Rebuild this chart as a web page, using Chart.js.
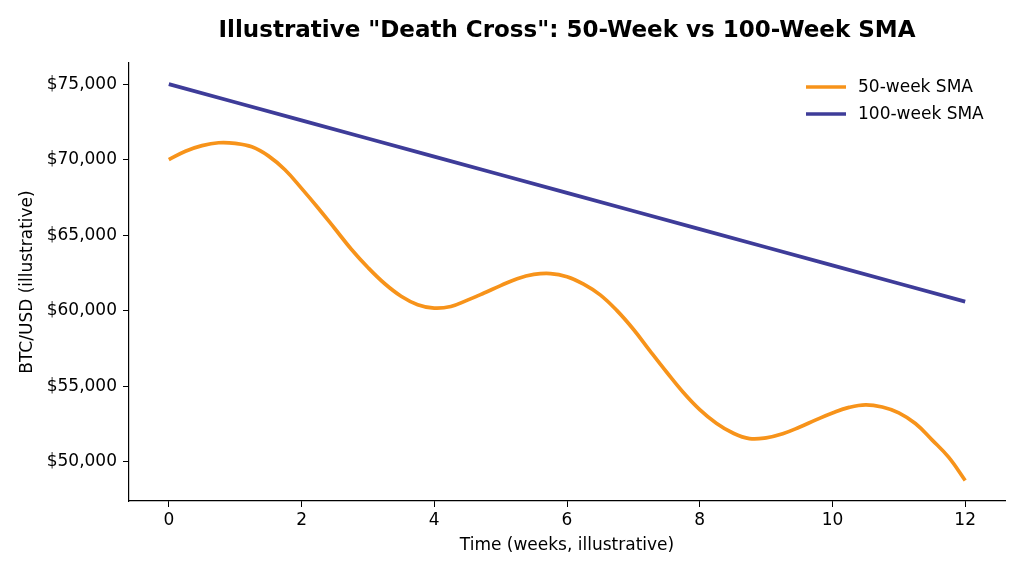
<!DOCTYPE html>
<html>
<head>
<meta charset="utf-8">
<script src="https://cdn.jsdelivr.net/npm/chart.js@4.4.1/dist/chart.umd.min.js"></script>
<style>
html,body{margin:0;padding:0;background:#fff;}
#wrap{width:1024px;height:576px;}
</style>
</head>
<body>
<div id="wrap"><canvas id="c" width="1024" height="576"></canvas></div>
<script>
const chartTitle = 'Illustrative "Death Cross": 50-Week vs 100-Week SMA';
const xAxisTitle = 'Time (weeks, illustrative)';
const yAxisTitle = 'BTC/USD (illustrative)';
const seriesNames = ['50-week SMA', '100-week SMA'];

const weeks50 = [0,0.25,0.5,0.75,1,1.25,1.5,1.75,2,2.25,2.5,2.75,3,3.25,3.5,3.75,4,4.25,4.5,4.75,5,5.25,5.5,5.75,6,6.25,6.5,6.75,7,7.25,7.5,7.75,8,8.25,8.5,8.75,9,9.25,9.5,9.75,10,10.25,10.5,10.75,11,11.25,11.5,11.75,12];
const sma50 = [70000,70560,70930,71120,71080,70850,70250,69330,68100,66800,65440,64070,62860,61800,60960,60400,60170,60280,60700,61170,61660,62120,62400,62460,62250,61760,61050,60020,58770,57340,55940,54600,53450,52550,51900,51530,51580,51850,52280,52770,53230,53600,53770,53620,53240,52530,51450,50300,48760];

const weeks100 = [0,1,2,3,4,5,6,7,8,9,10,11,12];
const sma100 = [75000,73800,72600,71400,70200,69000,67800,66600,65400,64200,63000,61800,60600];

const xTickValues = [0,2,4,6,8,10,12];
const yTickValues = [50000,55000,60000,65000,70000,75000];

const colors = ['#f7931a', '#3e3c99'];

Chart.defaults.font.family = "'DejaVu Sans', sans-serif";
Chart.defaults.font.size = 17;
Chart.defaults.color = '#000';

const overlay = {
  id: 'overlay',
  afterDraw(chart) {
    const ctx = chart.ctx;
    const ca = chart.chartArea;
    ctx.save();
    ctx.fillStyle = '#000';
    ctx.font = "bold 23px 'DejaVu Sans', sans-serif";
    ctx.textAlign = 'center';
    ctx.textBaseline = 'middle';
    ctx.fillText(chartTitle, (ca.left + ca.right) / 2, 31);
    ctx.font = "17px 'DejaVu Sans', sans-serif";
    ctx.textAlign = 'left';
    chart.data.datasets.forEach((ds, i) => {
      const y = 87 + i * 27;
      ctx.strokeStyle = ds.borderColor;
      ctx.lineWidth = ds.borderWidth;
      ctx.beginPath();
      ctx.moveTo(806, y);
      ctx.lineTo(846, y);
      ctx.stroke();
      ctx.fillStyle = '#000';
      ctx.fillText(ds.label, 858, y + 1);
    });
    ctx.restore();
  }
};

new Chart(document.getElementById('c'), {
  type: 'line',
  data: {
    datasets: [
      {
        label: seriesNames[0],
        data: weeks50.map((w, i) => ({x: w, y: sma50[i]})),
        borderColor: colors[0],
        backgroundColor: colors[0],
        borderWidth: 3.7,
        pointRadius: 0,
        tension: 0.4,
        fill: false
      },
      {
        label: seriesNames[1],
        data: weeks100.map((w, i) => ({x: w, y: sma100[i]})),
        borderColor: colors[1],
        backgroundColor: colors[1],
        borderWidth: 3.7,
        pointRadius: 0,
        tension: 0,
        fill: false
      }
    ]
  },
  options: {
    responsive: false,
    animation: false,
    layout: { padding: { top: 63, right: 19, left: 0, bottom: 0 } },
    plugins: {
      legend: { display: false },
      title: { display: false },
      tooltip: { enabled: false }
    },
    scales: {
      x: {
        type: 'linear',
        min: -0.6,
        max: 12.6,
        afterFit(s) { s.height = 75; },
        afterBuildTicks(s) { s.ticks = xTickValues.map(v => ({value: v})); },
        ticks: { padding: 3, color: '#000', font: { size: 17 } },
        grid: { display: true, drawOnChartArea: false, drawTicks: true, tickLength: 6, tickColor: '#000', tickWidth: 1 },
        border: { display: true, color: '#000', width: 1.2 },
        title: { display: true, text: xAxisTitle, color: '#000', font: { size: 17 }, padding: { top: 0, bottom: 20 } }
      },
      y: {
        type: 'linear',
        min: 47400,
        max: 76400,
        afterFit(s) { s.width = 129; },
        afterBuildTicks(s) { s.ticks = yTickValues.map(v => ({value: v})); },
        ticks: {
          padding: 6, color: '#000', font: { size: 17 },
          callback: v => '$' + Number(v).toLocaleString('en-US')
        },
        grid: { display: true, drawOnChartArea: false, drawTicks: true, tickLength: 6, tickColor: '#000', tickWidth: 1 },
        border: { display: true, color: '#000', width: 1.2 },
        title: { display: true, text: yAxisTitle, color: '#000', font: { size: 17 }, padding: { top: 17, bottom: 0 } }
      }
    }
  },
  plugins: [overlay]
});
</script>
</body>
</html>
